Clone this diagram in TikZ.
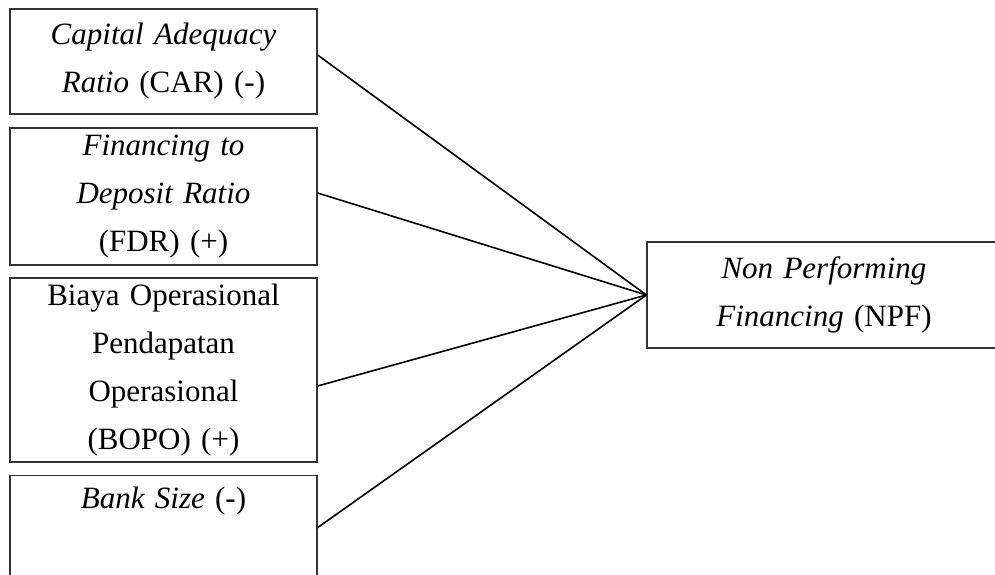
\documentclass[tikz,border=0pt]{standalone}
\usepackage{fontspec}
\setmainfont{Liberation Serif}
\usetikzlibrary{positioning}

\begin{document}
\begin{tikzpicture}[x=0.5pt, y=-0.5pt,
  var/.style={draw=black!80, line width=0.6pt, align=center, text width=145pt,
    minimum width=153.5pt, inner sep=0pt, font=\fontsize{15.5}{24}\selectfont},
  link/.style={line width=0.8pt}]
\useasboundingbox (0,0) rectangle (995,574);
% ---------- independent variables ----------
\node[var, minimum height=52.5pt] (car) at (163.5,61.5)
  {\textit{Capital Adequacy}\\ \textit{Ratio} (CAR) (-)};
\node[var, minimum height=68.5pt] (fdr) at (163.5,196.5)
  {\textit{Financing to}\\ \textit{Deposit Ratio}\\ (FDR) (+)};
\node[var, minimum height=92pt] (bopo) at (163.5,370)
  {Biaya Operasional\\ Pendapatan\\ Operasional\\ (BOPO) (+)};
\node[var, anchor=north, text height=16.5pt, text depth=46pt] (size) at (163.5,475)
  {\textit{Bank Size} (-)};
% ---------- dependent variable ----------
\node[var, text width=170pt, minimum width=177pt, minimum height=53pt] (npf) at (824,295)
  {\textit{Non Performing}\\ \textit{Financing} (NPF)};
% ---------- links ----------
\draw[link] ([yshift=3.25pt]car.east) -- (npf.west);
\draw[link] ([yshift=1.75pt]fdr.east) -- (npf.west);
\draw[link] ([yshift=-8pt]bopo.east) -- (npf.west);
\draw[link] ([yshift=5.25pt]size.east) -- (npf.west);
\end{tikzpicture}
\end{document}
